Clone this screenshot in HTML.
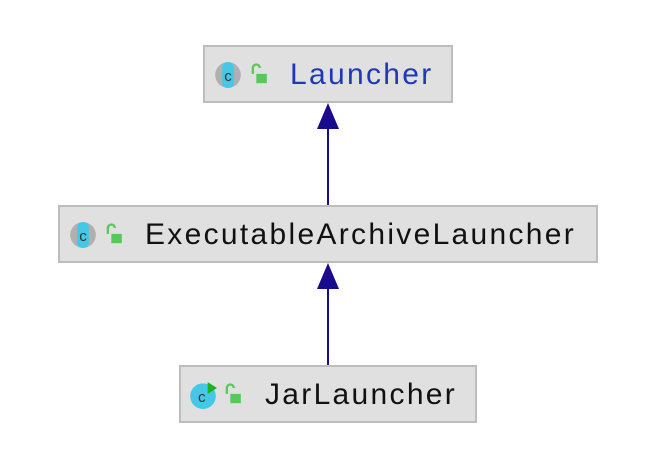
<!DOCTYPE html>
<html><head><style>
body{margin:0;width:664px;height:470px;background:#fff;position:relative;font-family:"Liberation Sans",sans-serif;overflow:hidden}
.b{position:absolute;background:#e0e0e0;border:2px solid #bdbdbd;box-sizing:border-box}
.t{position:absolute;font-size:30px;letter-spacing:2.3px;top:11px;white-space:nowrap}
.ic{position:absolute;top:14px;width:28px;height:28px}
</style></head><body>
<svg width="664" height="470" style="position:absolute;left:0;top:0">
<line x1="328" y1="120" x2="328" y2="205" stroke="#1a0a8c" stroke-width="2"/>
<polygon points="328,103 317,129 339,129" fill="#1a0a8c"/>
<line x1="328" y1="280" x2="328" y2="365" stroke="#1a0a8c" stroke-width="2"/>
<polygon points="328,263 317,289 339,289" fill="#1a0a8c"/>
</svg>
<div class="b" style="left:203px;top:45px;width:250px;height:58px">
<svg class="ic" style="left:9px" viewBox="0 0 24 24"><circle cx="12" cy="12" r="11" fill="#b0b0b0"/><rect x="7" y="1" width="10" height="22" rx="4" fill="#45c8e8"/><text x="12" y="17" font-size="13" text-anchor="middle" fill="#333" font-family="Liberation Sans">c</text></svg>
<svg class="ic" style="left:42px" viewBox="0 0 24 24"><path d="M5 11 V6 a3 3 0 0 1 6 0" stroke="#5bc75b" stroke-width="2" fill="none"/><rect x="8" y="11" width="9" height="8" fill="#5bc75b"/></svg>
<div class="t" style="left:85px;color:#1d39b5">Launcher</div></div>
<div class="b" style="left:58px;top:205px;width:540px;height:58px">
<svg class="ic" style="left:9px" viewBox="0 0 24 24"><circle cx="12" cy="12" r="11" fill="#b0b0b0"/><rect x="7" y="1" width="10" height="22" rx="4" fill="#45c8e8"/><text x="12" y="17" font-size="13" text-anchor="middle" fill="#333" font-family="Liberation Sans">c</text></svg>
<svg class="ic" style="left:42px" viewBox="0 0 24 24"><path d="M5 11 V6 a3 3 0 0 1 6 0" stroke="#5bc75b" stroke-width="2" fill="none"/><rect x="8" y="11" width="9" height="8" fill="#5bc75b"/></svg>
<div class="t" style="left:85px;color:#111">ExecutableArchiveLauncher</div></div>
<div class="b" style="left:179px;top:365px;width:298px;height:58px">
<svg class="ic" style="left:8px" viewBox="0 0 24 24"><circle cx="12" cy="13" r="11" fill="#45c8e8"/><text x="11" y="18" font-size="13" text-anchor="middle" fill="#333" font-family="Liberation Sans">c</text><polygon points="16,1 16,11 24,6" fill="#1bb41b"/></svg>
<svg class="ic" style="left:40px" viewBox="0 0 24 24"><path d="M5 11 V6 a3 3 0 0 1 6 0" stroke="#5bc75b" stroke-width="2" fill="none"/><rect x="8" y="11" width="9" height="8" fill="#5bc75b"/></svg>
<div class="t" style="left:84px;color:#111">JarLauncher</div></div>
</body></html>
